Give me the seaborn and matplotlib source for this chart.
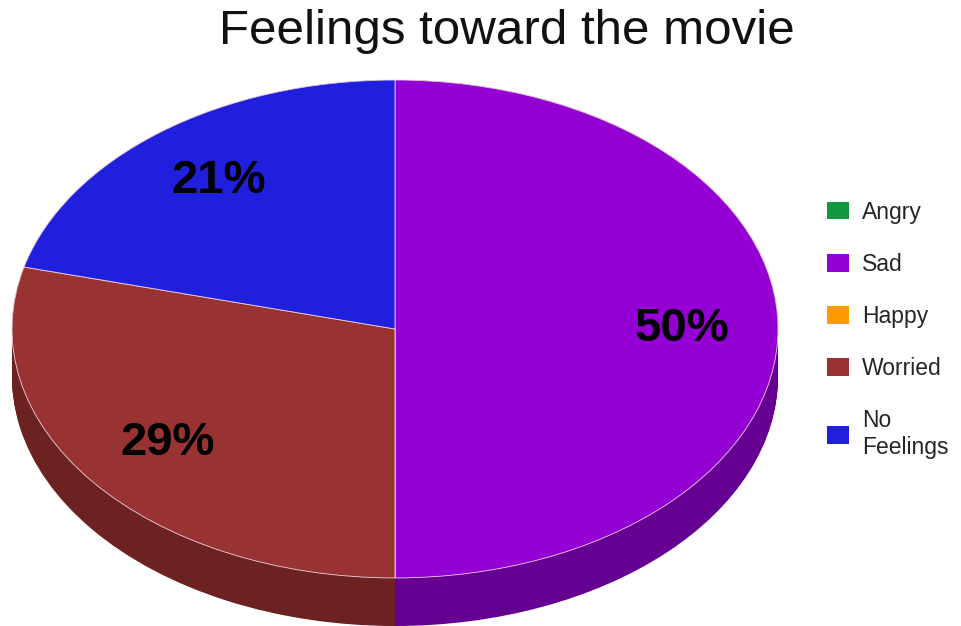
import numpy as np
import matplotlib
matplotlib.use("Agg")
import matplotlib.pyplot as plt
import seaborn as sns
from matplotlib.patches import Patch

# data
feelings = ["Angry", "Sad", "Happy", "Worried", "No Feelings"]
legend_labels = ["Angry", "Sad", "Happy", "Worried", "No\nFeelings"]
shares = [0, 50, 0, 29, 21]
top_colors = ["#12993f", "#9400d3", "#ff9a00", "#993333", "#1f1fdd"]
side_colors = ["#0b6b2b", "#660093", "#b36b00", "#6d2222", "#14149a"]

sns.set_theme(style="white")
plt.rcParams["font.family"] = ["Liberation Sans", "DejaVu Sans"]

fig = plt.figure(figsize=(9.62, 6.26), dpi=100)
# pie ellipse: x 12..778 px, top face y 80..578 px, side depth ~48 px
ax = fig.add_axes([12 / 962, 0.0, 766 / 962, 546 / 626])

depth = 0.193

# stack of darker pies to fake the 3d rim
for dy in np.linspace(-depth, 0, 40):
    ax.pie(shares, colors=side_colors, startangle=90, counterclock=False,
           center=(0, dy), radius=1, wedgeprops=dict(linewidth=0))

def pct_label(p):
    return f"{p:.0f}%" if p > 0 else ""

wedges, texts, autotexts = ax.pie(
    shares, colors=top_colors, startangle=90, counterclock=False,
    center=(0, 0), radius=1, autopct=pct_label, pctdistance=0.75,
    wedgeprops=dict(linewidth=0.6, edgecolor="#f0d0e0"),
    textprops=dict(fontsize=34, fontweight="bold", color="black"))

ax.set_aspect("auto")
ax.set_xlim(-1, 1)
ax.set_ylim(-1 - depth, 1)
ax.axis("off")

fig.text(0.5265, 1 - 44 / 626, "Feelings toward the movie", ha="center",
         va="baseline", fontsize=35.5, color="#111111")

handles = [Patch(facecolor=c, edgecolor="none") for c in top_colors]
fig.legend(handles, legend_labels, loc="upper left",
           bbox_to_anchor=(806 / 962, 1 - 180 / 626), frameon=False,
           fontsize=16.5, handlelength=0.96, handleheight=0.8,
           labelspacing=1.27, handletextpad=0.6)

fig.savefig("out.png", dpi=100)
